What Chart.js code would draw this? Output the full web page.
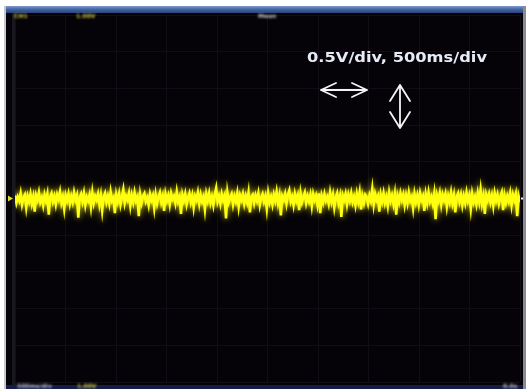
<!DOCTYPE html>
<html>
<head>
<meta charset="utf-8">
<script src="https://cdn.jsdelivr.net/npm/chart.js@4/dist/chart.umd.min.js"></script>
<style>
  html, body { margin: 0; padding: 0; background: #ffffff; }
  canvas { display: block; }
</style>
</head>
<body>
<canvas id="scope" width="528" height="389"></canvas>
<script>
// Captured channel samples (volts), 360 samples spread across the 5 s record
const volts = [
  0.04,-0.06,0.02,-0.03,0.07,-0.08,0.01,0.05,-0.12,0.03,-0.04,0.06,-0.07,0.02,-0.18,0.04,-0.02,0.08,-0.05,0.01,
  -0.09,0.05,-0.03,0.06,-0.22,0.02,0.07,-0.04,0.03,-0.08,0.05,-0.01,0.09,-0.06,0.02,-0.14,0.04,-0.03,0.06,-0.07,
  0.03,-0.05,0.08,-0.02,0.04,-0.26,0.01,0.06,-0.04,0.07,-0.09,0.02,-0.03,0.05,-0.11,0.08,-0.06,0.03,-0.02,0.06,
  -0.08,0.04,-0.16,0.02,0.07,-0.05,0.03,-0.07,0.09,-0.03,0.01,-0.2,0.05,-0.04,0.06,-0.08,0.02,0.12,-0.06,0.03,
  -0.02,0.07,-0.1,0.04,-0.05,0.08,-0.03,0.02,-0.24,0.05,-0.06,0.03,0.07,-0.04,0.01,-0.09,0.06,-0.02,0.04,-0.13,
  0.05,-0.07,0.02,0.08,-0.05,0.03,-0.17,0.06,-0.03,0.04,-0.08,0.07,-0.01,0.03,-0.06,0.09,-0.04,0.02,-0.21,0.05,
  -0.03,0.06,-0.08,0.01,0.07,-0.05,0.04,-0.12,0.03,-0.02,0.08,-0.07,0.05,-0.04,0.02,-0.15,0.06,-0.03,0.07,-0.06,
  0.02,-0.09,0.05,0.14,-0.04,0.03,-0.07,0.06,-0.02,0.04,-0.27,0.08,-0.05,0.01,0.06,-0.08,0.03,-0.04,0.07,-0.11,
  0.04,-0.02,0.06,-0.07,0.03,-0.05,0.08,-0.19,0.02,0.05,-0.06,0.04,-0.03,0.07,-0.09,0.01,0.06,-0.04,0.03,-0.14,
  0.07,-0.05,0.02,-0.08,0.05,-0.03,0.09,-0.06,0.04,-0.23,0.03,-0.02,0.06,-0.07,0.05,0.11,-0.04,0.02,-0.09,0.06,
  -0.03,0.04,-0.16,0.07,-0.05,0.02,0.08,-0.06,0.03,-0.04,0.05,-0.1,0.06,-0.02,0.04,-0.08,0.07,-0.2,0.03,-0.05,
  0.06,-0.03,0.02,-0.07,0.08,-0.04,0.05,-0.12,0.01,0.07,-0.06,0.03,-0.25,0.04,-0.02,0.06,-0.08,0.05,-0.03,0.07,
  -0.05,0.02,-0.09,0.06,-0.04,0.08,-0.15,0.03,-0.06,0.05,0.02,-0.07,0.04,-0.03,0.13,-0.08,0.06,-0.02,0.03,-0.18,
  0.05,-0.04,0.07,-0.06,0.02,-0.1,0.08,-0.03,0.04,-0.07,0.06,-0.22,0.03,-0.05,0.07,-0.02,0.05,-0.09,0.04,-0.06,
  0.08,-0.03,0.02,-0.13,0.06,-0.05,0.04,-0.08,0.07,-0.02,0.03,-0.17,0.05,-0.06,0.08,-0.04,0.02,-0.07,0.06,-0.28,
  0.04,-0.03,0.07,-0.08,0.05,-0.02,0.06,-0.11,0.03,-0.05,0.08,-0.06,0.04,-0.19,0.02,0.07,-0.04,0.05,-0.09,0.03,
  -0.06,0.08,-0.03,0.04,-0.14,0.06,-0.05,0.02,-0.08,0.07,-0.04,0.12,-0.07,0.03,-0.21,0.05,-0.02,0.06,-0.05,0.04,
  -0.1,0.07,-0.03,0.05,-0.07,0.02,0.08,-0.16,0.04,-0.06,0.03,-0.04,0.07,-0.09,0.05,-0.02,0.06,-0.24,0.03,-0.05
];

// Screen settings: 10 divisions each way
const voltsPerDiv = 0.5;   // V/div
const secPerDiv = 0.5;     // 500 ms/div
const divisions = 10;
const recordLength = secPerDiv * divisions;       // 5 s
const sampleStep = recordLength / (volts.length - 1);

// On-screen readouts
const topReadouts = [
  { text: 'CH1',   x: 14,  color: '#c8c040' },
  { text: '1.00V', x: 76,  color: '#c8c040' },
  { text: 'Mean',  x: 258, color: '#c8c8c8' }
];
const bottomReadouts = [
  { text: '500ms/div', x: 17,  color: '#b8b8c8' },
  { text: '1.00V',     x: 77,  color: '#c8c040' },
  { text: '0.0s',      x: 503, color: '#b8b8c8' }
];
const scaleNote = '0.5V/div, 500ms/div';

const points = volts.map((v, i) => ({ x: i * sampleStep, y: v }));

// Screen frame, bezel bars and the dark display behind the grid
const bezel = {
  id: 'bezel',
  beforeDraw(chart) {
    const ctx = chart.ctx;
    ctx.save();
    ctx.fillStyle = '#ffffff';
    ctx.fillRect(0, 0, 528, 389);
    // top title bar
    const g = ctx.createLinearGradient(0, 6, 0, 14);
    g.addColorStop(0, '#7f9ccc');
    g.addColorStop(0.4, '#4566a6');
    g.addColorStop(1, '#24386e');
    ctx.fillStyle = g;
    ctx.fillRect(5, 6, 520, 8);
    // display
    ctx.fillStyle = '#060308';
    ctx.fillRect(5, 13, 520, 372);
    // bottom bar
    ctx.fillStyle = '#141d48';
    ctx.fillRect(5, 385, 520, 4);
    // left frame edge
    ctx.fillStyle = '#c8c8cc';
    ctx.fillRect(4, 6, 2, 383);
    ctx.fillStyle = '#19171f';
    ctx.fillRect(12, 13, 4, 372);
    // right frame edge
    ctx.fillStyle = '#8a8a92';
    ctx.fillRect(523, 6, 3, 383);
    ctx.restore();
  },
  beforeDatasetsDraw(chart) {
    chart.ctx.save();
    chart.ctx.shadowColor = 'rgba(255,255,0,0.9)';
    chart.ctx.shadowBlur = 6;
  },
  afterDatasetsDraw(chart) {
    chart.ctx.restore();
  },
  afterDraw(chart) {
    const ctx = chart.ctx;
    const yScale = chart.scales.y;
    ctx.save();
    // readouts on the bars
    ctx.filter = 'blur(0.8px)';
    ctx.font = 'bold 6px "DejaVu Sans"';
    ctx.textBaseline = 'middle';
    topReadouts.forEach(r => { ctx.fillStyle = r.color; ctx.fillText(r.text, r.x, 16.5); });
    bottomReadouts.forEach(r => { ctx.fillStyle = r.color; ctx.fillText(r.text, r.x, 386); });
    ctx.filter = 'none';

    // ground level marker
    const y0 = yScale.getPixelForValue(0);
    ctx.fillStyle = '#e0d830';
    ctx.beginPath();
    ctx.moveTo(8, y0 - 3);
    ctx.lineTo(13, y0);
    ctx.lineTo(8, y0 + 3);
    ctx.closePath();
    ctx.fill();
    ctx.fillStyle = '#f0f0f0';
    ctx.fillRect(521, y0 - 1, 2, 2);

    // scale note
    ctx.filter = 'blur(0.3px)';
    ctx.font = 'bold 14px "DejaVu Sans"';
    ctx.textBaseline = 'alphabetic';
    const w = ctx.measureText(scaleNote).width;
    const target = 180;
    ctx.save();
    ctx.translate(307, 62);
    ctx.scale(target / w, 1);
    ctx.fillStyle = '#e6ecf6';
    ctx.fillText(scaleNote, 0, 0);
    ctx.restore();

    // direction arrows
    ctx.strokeStyle = '#f4f4f4';
    ctx.lineWidth = 1.8;
    ctx.lineCap = 'round';
    ctx.lineJoin = 'round';
    ctx.beginPath();
    ctx.moveTo(321, 90); ctx.lineTo(367, 90);
    ctx.moveTo(336, 83); ctx.lineTo(321, 90); ctx.lineTo(336, 97);
    ctx.moveTo(352, 83); ctx.lineTo(367, 90); ctx.lineTo(352, 97);
    ctx.moveTo(400, 85); ctx.lineTo(400, 128);
    ctx.moveTo(390, 101); ctx.lineTo(400, 85); ctx.lineTo(410, 101);
    ctx.moveTo(390, 112); ctx.lineTo(400, 128); ctx.lineTo(410, 112);
    ctx.stroke();
    ctx.filter = 'none';
    ctx.restore();
  }
};

new Chart(document.getElementById('scope'), {
  type: 'line',
  data: {
    datasets: [{
      data: points,
      borderColor: '#ffff10',
      borderWidth: 2.6,
      pointRadius: 0,
      tension: 0,
      fill: false
    }]
  },
  options: {
    responsive: false,
    devicePixelRatio: 1,
    animation: false,
    events: [],
    layout: { padding: { left: 15, right: 8, top: 15, bottom: 7 } },
    plugins: { legend: { display: false }, tooltip: { enabled: false } },
    scales: {
      x: {
        type: 'linear',
        min: 0,
        max: recordLength,
        ticks: { display: false, stepSize: secPerDiv },
        grid: { color: '#100d15', lineWidth: 1, drawTicks: false },
        border: { display: false }
      },
      y: {
        type: 'linear',
        min: -voltsPerDiv * divisions / 2,
        max: voltsPerDiv * divisions / 2,
        ticks: { display: false, stepSize: voltsPerDiv },
        grid: { color: '#100d15', lineWidth: 1, drawTicks: false },
        border: { display: false }
      }
    }
  },
  plugins: [bezel]
});
</script>
</body>
</html>
